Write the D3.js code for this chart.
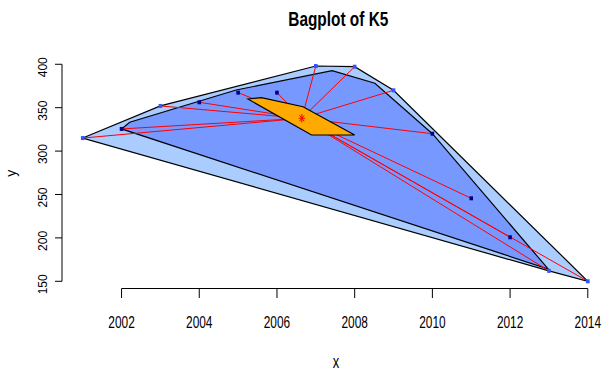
<!DOCTYPE html>
<html>
<head>
<meta charset="utf-8">
<script src="https://cdn.jsdelivr.net/npm/d3@7/dist/d3.min.js"></script>
<style>
  html, body { margin: 0; padding: 0; background: #fff; }
  svg { display: block; }
  text { font-family: "Liberation Sans", Arial, sans-serif; fill: #000; }
</style>
</head>
<body>
<script>
// Observations of K5 by year
const years  = [2001, 2002, 2003, 2004, 2005, 2006, 2007, 2008, 2009, 2010, 2011, 2012, 2013, 2014];
const values = [315, 325.5, 352, 356.2, 367.3, 367.3, 398, 397.2, 370, 320, 245.6, 200.7, 162, 150];
// true = point lies inside the bag, false = point lies in the loop
const inBag  = [false, true, false, true, true, true, false, false, false, true, true, true, false, false];

// Loop (fence hull), bag and center region as [x, y] vertices
const loopHullX = [2001, 2003, 2007, 2008, 2009, 2014, 2013];
const loopHullY = [315, 352, 398, 397.2, 370, 150, 162];
const bagHullX  = [2002, 2002.21, 2004.95, 2007.42, 2008.52, 2010, 2012.98];
const bagHullY  = [325.5, 333.2, 370.4, 392.6, 378.1, 320, 164.2];
const centerHullX = [2005.25, 2005.6, 2006.67, 2008.0, 2006.89];
const centerHullY = [360.0, 361.5, 351.1, 318.5, 318.5];
const tukeyMedian = [2006.64, 337.8];

const xTicks = [2002, 2004, 2006, 2008, 2010, 2012, 2014];
const yTicks = [150, 200, 250, 300, 350, 400];

const W = 603, H = 374;
const svg = d3.select("body").append("svg").attr("width", W).attr("height", H);

const x = d3.scaleLinear().domain([2000.48, 2014.52]).range([62.5, 608]);
const y = d3.scaleLinear().domain([140.08, 407.92]).range([289.9, 57.4]);

const pts = (xs, ys) => xs.map((v, i) => [x(v), y(ys[i])]);
const poly = d3.line().curve(d3.curveLinearClosed);

// Loop
svg.append("path").attr("d", poly(pts(loopHullX, loopHullY)))
  .attr("fill", "#aaccff").attr("stroke", "#000").attr("stroke-width", 1.2);
// Bag
svg.append("path").attr("d", poly(pts(bagHullX, bagHullY)))
  .attr("fill", "#7799ff").attr("stroke", "#000").attr("stroke-width", 1.2);

// Whiskers from the median to every observation
svg.append("g").selectAll("line").data(years).join("line")
  .attr("x1", x(tukeyMedian[0])).attr("y1", y(tukeyMedian[1]))
  .attr("x2", d => x(d)).attr("y2", (d, i) => y(values[i]))
  .attr("stroke", "#ff0000").attr("stroke-width", 1);

// Center region
svg.append("path").attr("d", poly(pts(centerHullX, centerHullY)))
  .attr("fill", "#ffaa00").attr("stroke", "#000").attr("stroke-width", 1.2);

// Points
svg.append("g").selectAll("rect").data(years).join("rect")
  .attr("x", d => x(d) - 1.8).attr("y", (d, i) => y(values[i]) - 2)
  .attr("width", 3.6).attr("height", 4)
  .attr("fill", (d, i) => inBag[i] ? "#000088" : "#3355ff");

// Median marker (asterisk)
const mx = x(tukeyMedian[0]), my = y(tukeyMedian[1]);
const star = svg.append("g").attr("stroke", "#ff0000").attr("stroke-width", 1);
star.append("line").attr("x1", mx).attr("x2", mx).attr("y1", my - 4.2).attr("y2", my + 4.2);
star.append("line").attr("x1", mx - 3.2).attr("x2", mx + 3.2).attr("y1", my).attr("y2", my);
star.append("line").attr("x1", mx - 2.3).attr("x2", mx + 2.3).attr("y1", my - 3).attr("y2", my + 3);
star.append("line").attr("x1", mx - 2.3).attr("x2", mx + 2.3).attr("y1", my + 3).attr("y2", my - 3);

// X axis
const xAxisY = 288.5;
const gx = svg.append("g").attr("stroke", "#000").attr("stroke-width", 1);
gx.append("line").attr("x1", x(xTicks[0])).attr("x2", x(xTicks[xTicks.length - 1]))
  .attr("y1", xAxisY).attr("y2", xAxisY);
gx.selectAll("line.tick").data(xTicks).join("line").attr("class", "tick")
  .attr("x1", d => x(d)).attr("x2", d => x(d)).attr("y1", xAxisY).attr("y2", xAxisY + 9.5);
svg.append("g").selectAll("text").data(xTicks).join("text")
  .attr("transform", d => `translate(${x(d)},327.7) scale(0.72,1)`)
  .attr("text-anchor", "middle").attr("font-size", 16.5).text(d => d);

// Y axis
const yAxisX = 62;
const gy = svg.append("g").attr("stroke", "#000").attr("stroke-width", 1);
gy.append("line").attr("x1", yAxisX).attr("x2", yAxisX)
  .attr("y1", y(yTicks[0])).attr("y2", y(yTicks[yTicks.length - 1]));
gy.selectAll("line.tick").data(yTicks).join("line").attr("class", "tick")
  .attr("x1", yAxisX - 7).attr("x2", yAxisX).attr("y1", d => y(d)).attr("y2", d => y(d));
svg.append("g").selectAll("text").data(yTicks).join("text")
  .attr("transform", d => `translate(47,${y(d) + 3}) rotate(-90)`)
  .attr("text-anchor", "middle").attr("font-size", 12).text(d => d);

// Titles
svg.append("text").attr("transform", "translate(338.3,25.7) scale(0.79,1)")
  .attr("text-anchor", "middle").attr("font-size", 19.5).attr("font-weight", "bold")
  .text("Bagplot of K5");
svg.append("text").attr("transform", "translate(336,368.3) scale(0.72,1)")
  .attr("text-anchor", "middle").attr("font-size", 18).text("x");
svg.append("text").attr("transform", "translate(15.5,173.3) rotate(-90)")
  .attr("text-anchor", "middle").attr("font-size", 14).text("y");
</script>
</body>
</html>
